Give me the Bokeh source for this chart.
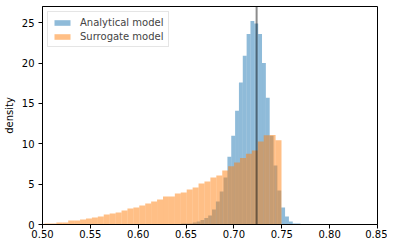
import numpy as np
from bokeh.plotting import figure
from bokeh.models import Span, Range1d, FixedTicker, PrintfTickFormatter, Legend, LegendItem
from bokeh.embed import file_html
from bokeh.resources import INLINE

# --- data (density histograms) ---
# Surrogate model: 40 visible bins
surr_start = 0.5021
surr_width = 0.00619
surr_density = [0.12, 0.12, 0.25, 0.25, 0.50, 0.50, 0.62, 0.74, 0.87, 0.99,
                1.24, 1.36, 1.49, 1.73, 1.98, 2.10, 2.35, 2.60, 2.85, 3.09,
                3.47, 3.47, 3.84, 3.96, 4.33, 4.58, 5.07, 5.32, 5.82, 6.06,
                6.68, 7.20, 7.68, 8.25, 8.75, 9.16, 10.27, 11.05, 11.10, 10.45]

# Analytical model: 31 bins
anal_start = 0.6450
anal_width = 0.004016
anal_density = [0.12, 0.12, 0.12, 0.25, 0.37, 0.55, 0.80, 1.10, 1.86, 2.85,
                4.08, 5.82, 8.40, 11.00, 14.10, 17.60, 20.90, 23.60, 25.20, 24.90,
                23.60, 20.00, 15.70, 11.00, 7.30, 4.20, 2.10, 1.00, 0.37, 0.12,
                0.12]

ref_value = 0.7237
x_ticks = [0.50, 0.55, 0.60, 0.65, 0.70, 0.75, 0.80, 0.85]
y_ticks = [0, 5, 10, 15, 20, 25]

FONT = "DejaVu Sans"

s_left = surr_start + surr_width * np.arange(len(surr_density))
a_left = anal_start + anal_width * np.arange(len(anal_density))

p = figure(frame_width=335, frame_height=218, output_backend="svg", toolbar_location=None,
           x_range=Range1d(0.50, 0.85), y_range=Range1d(0, 27),
           min_border_left=33, min_border_right=10, min_border_top=6, min_border_bottom=0)

r_a = p.quad(left=a_left, right=a_left + anal_width, bottom=0, top=anal_density,
             fill_color="#1f77b4", fill_alpha=0.5, line_color=None)
r_s = p.quad(left=s_left, right=s_left + surr_width, bottom=0, top=surr_density,
             fill_color="#ff7f0e", fill_alpha=0.5, line_color=None)

p.add_layout(Span(location=ref_value, dimension="height", line_color="black",
                  line_alpha=0.45, line_width=2))

p.xgrid.visible = False
p.ygrid.visible = False
p.outline_line_color = "black"
p.outline_line_width = 1

for ax in (p.xaxis[0], p.yaxis[0]):
    ax.major_tick_in = 0
    ax.major_tick_out = 4
    ax.minor_tick_line_color = None
    ax.axis_line_color = "black"
    ax.major_tick_line_color = "black"
    ax.major_label_text_font = FONT
    ax.major_label_text_font_size = "10px"
    ax.major_label_text_color = "black"

p.xaxis.ticker = FixedTicker(ticks=x_ticks)
p.xaxis.formatter = PrintfTickFormatter(format="%.2f")
p.xaxis.major_label_standoff = 1
p.xaxis.axis_label = None
p.yaxis.ticker = FixedTicker(ticks=y_ticks)
p.yaxis.major_label_standoff = 4
p.yaxis.axis_label = "density"
p.yaxis.axis_label_text_font = FONT
p.yaxis.axis_label_text_font_size = "10px"
p.yaxis.axis_label_text_font_style = "normal"
p.yaxis.axis_label_text_color = "black"
p.yaxis.axis_label_standoff = 4

legend = Legend(items=[LegendItem(label="Analytical model", renderers=[r_a]),
                       LegendItem(label="Surrogate model", renderers=[r_s])],
                location="top_left", margin=5, padding=4, spacing=2,
                glyph_width=20, glyph_height=7, label_height=12, label_standoff=8,
                label_text_font=FONT, label_text_font_size="10px",
                border_line_color="#cccccc", background_fill_alpha=0.8)
p.add_layout(legend)

open("out.html", "w").write(file_html(p, INLINE))
